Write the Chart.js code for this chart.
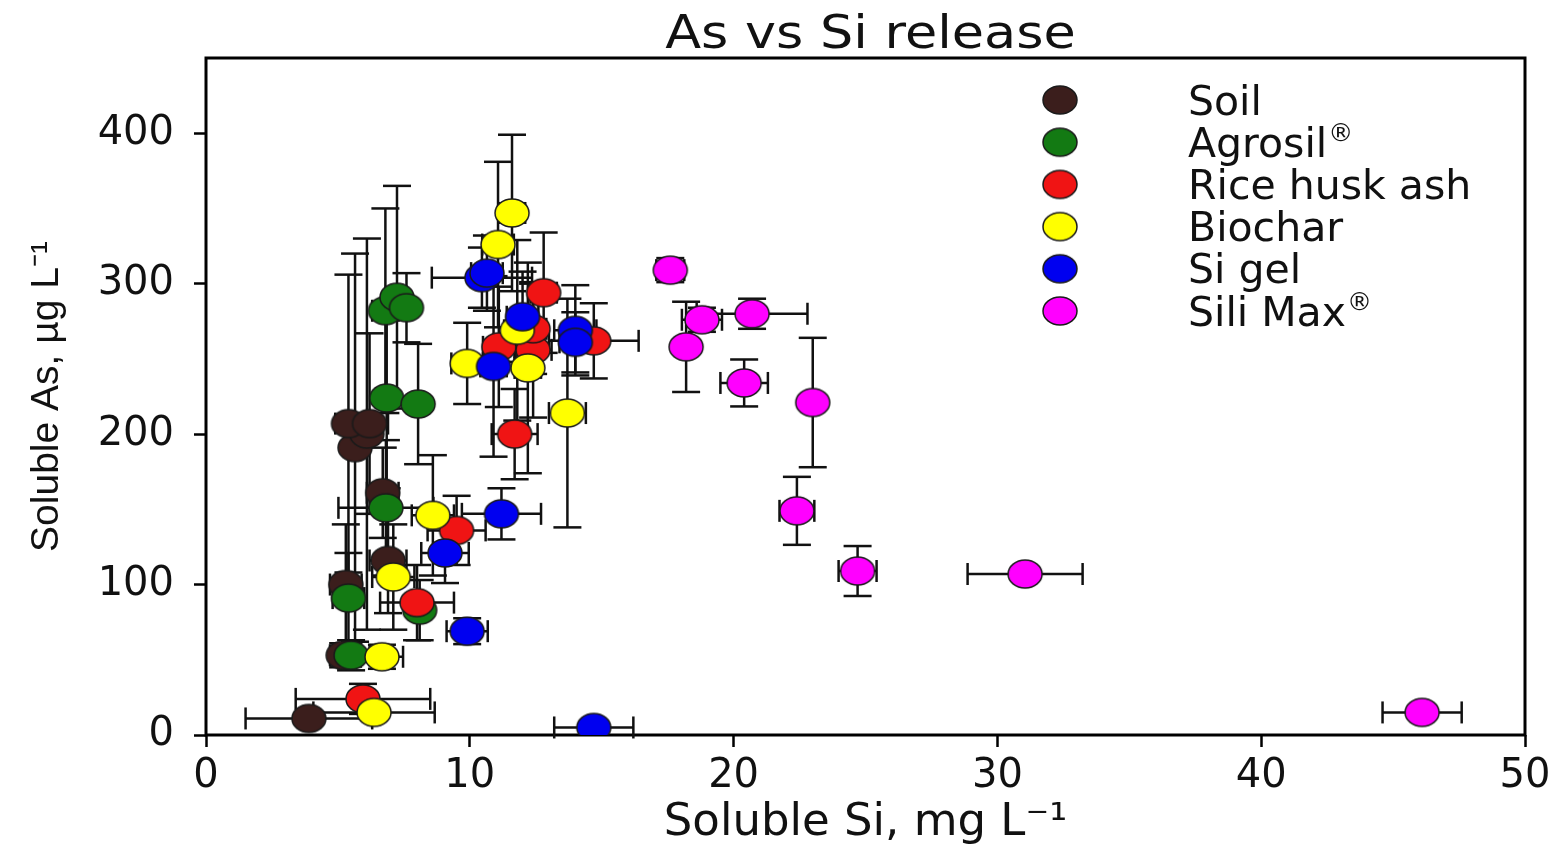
<!DOCTYPE html>
<html>
<head>
<meta charset="utf-8">
<title>As vs Si release</title>
<script src="https://cdn.jsdelivr.net/npm/chart.js@4.4.1/dist/chart.umd.min.js"></script>
<style>
  html, body { margin: 0; padding: 0; background: #fff; }
  canvas { display: block; }
</style>
</head>
<body>
<canvas id="myChart" width="1560" height="850"></canvas>
<script>
const chartTitle = 'As vs Si release';
const seriesNames = ['Soil', 'Agrosil®', 'Rice husk ash', 'Biochar', 'Si gel', 'Sili Max®'];
const seriesColors = ['#3b1e1c', '#137a13', '#f01414', '#ffff00', '#0000f0', '#ff00ff'];

const xTicks = [0, 10, 20, 30, 40, 50];
const yTicks = [0, 100, 200, 300, 400];

// soluble Si (mg/L), soluble As (ug/L) and their errors
const soilSi     = [3.9, 5.2, 5.3, 6.9, 6.7, 5.65, 6.1, 5.4, 6.2];
const soilAs     = [11, 53, 100, 116, 161, 191, 200, 207, 207];
const soilSiErr  = [2.4, 0.5, 0.6, 0.7, 0.6, 0.3, 0.4, 0.5, 0.7];
const soilAsErr  = [4, 8, 40, 35, 30, 129, 130, 99, 60];

const agroSi     = [6.8, 7.24, 7.6, 6.85, 8.04, 6.82, 5.4, 5.5, 8.1];
const agroAs     = [282, 291, 284, 224, 220, 151, 91, 53, 83];
const agroSiErr  = [0.5, 0.3, 0.3, 0.4, 0.3, 1.8, 0.6, 0.7, 0.3];
const agroAsErr  = [68, 74, 23, 60, 40, 45, 30, 10, 20];

const riceSi     = [5.95, 8.0, 9.5, 11.7, 11.1, 12.4, 12.4, 12.8, 14.7];
const riceAs     = [24, 88, 136, 200, 258, 256, 270, 294, 262];
const riceSiErr  = [2.55, 1.4, 1.1, 0.87, 0.6, 0.7, 0.5, 0.5, 1.7];
const riceAsErr  = [10, 25, 23, 30, 40, 45, 30, 40, 25];

const bioSi      = [6.37, 6.67, 7.1, 8.6, 9.9, 12.2, 11.8, 11.07, 11.6, 13.7];
const bioAs      = [15, 52, 105, 146, 247, 244, 269, 326, 347, 214];
const bioSiErr   = [2.3, 0.8, 0.8, 0.8, 0.6, 0.5, 0.5, 0.6, 0.5, 0.7];
const bioAsErr   = [5, 8, 35, 40, 27, 70, 60, 55, 52, 76];

const gelSi      = [10.46, 10.65, 12.0, 14.0, 14.0, 10.9, 11.2, 9.06, 9.9, 14.7];
const gelAs      = [304, 307, 278, 269, 261, 245, 147, 121, 69, 5];
const gelSiErr   = [1.9, 0.6, 0.6, 0.8, 0.6, 0.5, 1.5, 0.9, 0.78, 1.5];
const gelAsErr   = [20, 25, 30, 30, 20, 60, 17, 20, 8.6, 2];

const maxSi      = [17.6, 18.8, 20.7, 18.2, 20.4, 23.0, 22.4, 24.7, 31.05, 46.1];
const maxAs      = [309, 276, 280, 258, 234, 221, 149, 109, 107, 15];
const maxSiErr   = [0.53, 0.76, 2.1, 0, 0.9, 0, 0.66, 0.72, 2.18, 1.5];
const maxAsErr   = [8, 8, 10, 30, 15.6, 43, 22.6, 16.6, 4, 3];

const series = [
    [soilSi, soilAs, soilSiErr, soilAsErr],
    [agroSi, agroAs, agroSiErr, agroAsErr],
    [riceSi, riceAs, riceSiErr, riceAsErr],
    [bioSi, bioAs, bioSiErr, bioAsErr],
    [gelSi, gelAs, gelSiErr, gelAsErr],
    [maxSi, maxAs, maxSiErr, maxAsErr],
];

// oval markers like the original plot
function dot(color) {
    const c = document.createElement('canvas');
    c.width = 38; c.height = 32;
    const g = c.getContext('2d');
    g.beginPath();
    g.ellipse(19, 16, 17, 14, 0, 0, Math.PI * 2);
    g.fillStyle = color;
    g.fill();
    g.lineWidth = 1.5;
    g.strokeStyle = '#1a1a1a';
    g.stroke();
    return c;
}
const dots = seriesColors.map(dot);

const datasets = series.map((s, i) => ({
    label: seriesNames[i],
    data: s[0].map((v, j) => ({ x: v, y: s[1][j], xErr: s[2][j], yErr: s[3][j] })),
    pointStyle: dots[i],
    order: series.length - i,
}));

const frame = {
    id: 'frame',
    beforeDatasetsDraw(chart) {
        const { ctx, chartArea: a } = chart;
        ctx.save();
        ctx.lineWidth = 3;
        ctx.strokeStyle = '#000';
        ctx.strokeRect(a.left, a.top, a.right - a.left, a.bottom - a.top);
        ctx.restore();
    }
};

const errorBars = {
    id: 'errorBars',
    beforeDatasetsDraw(chart) {
        const { ctx, scales: { x, y } } = chart;
        ctx.save();
        ctx.strokeStyle = '#111';
        ctx.lineWidth = 2.5;
        const seg = (x1, y1, x2, y2) => {
            ctx.beginPath(); ctx.moveTo(x1, y1); ctx.lineTo(x2, y2); ctx.stroke();
        };
        chart.data.datasets.forEach(ds => {
            ds.data.forEach(p => {
                const px = x.getPixelForValue(p.x), py = y.getPixelForValue(p.y);
                if (p.yErr) {
                    const y1 = y.getPixelForValue(p.y + p.yErr);
                    const y2 = y.getPixelForValue(p.y - p.yErr);
                    seg(px, y1, px, y2);
                    seg(px - 14, y1, px + 14, y1);
                    seg(px - 14, y2, px + 14, y2);
                }
                if (p.xErr) {
                    const x1 = x.getPixelForValue(p.x - p.xErr);
                    const x2 = x.getPixelForValue(p.x + p.xErr);
                    seg(x1, py, x2, py);
                    seg(x1, py - 11, x1, py + 11);
                    seg(x2, py - 11, x2, py + 11);
                }
            });
        });
        ctx.restore();
    }
};

const legendBox = {
    id: 'legendBox',
    afterDraw(chart) {
        const ctx = chart.ctx;
        ctx.save();
        ctx.fillStyle = '#111';
        ctx.textAlign = 'left';
        ctx.textBaseline = 'alphabetic';
        seriesNames.forEach((name, i) => {
            const cy = 100 + i * 42.2;
            ctx.drawImage(dots[i], 1060 - 19, cy - 16);
            const base = name.replace('®', '');
            ctx.font = '41px "DejaVu Sans"';
            ctx.fillText(base, 1188, cy + 14.5);
            if (name.endsWith('®')) {
                const w = ctx.measureText(base).width;
                ctx.font = '25px "DejaVu Sans"';
                ctx.fillText('®', 1188 + w + 1, cy - 1);
            }
        });
        ctx.restore();
    }
};

const titleText = {
    id: 'titleText',
    afterDraw(chart) {
        const { ctx, chartArea: a } = chart;
        ctx.save();
        ctx.font = '46px "DejaVu Sans"';
        ctx.fillStyle = '#111';
        ctx.textAlign = 'center';
        ctx.textBaseline = 'alphabetic';
        ctx.translate((a.left + a.right) / 2 + 5, 48);
        ctx.scale(1.14, 1);
        ctx.fillText(chartTitle, 0, 0);
        ctx.restore();
    }
};

const gridOpts = { drawOnChartArea: false, drawTicks: true, tickLength: 12, tickWidth: 2.5, tickColor: '#000' };

new Chart(document.getElementById('myChart'), {
    type: 'scatter',
    data: { datasets },
    options: {
        responsive: false,
        animation: false,
        devicePixelRatio: 1,
        events: [],
        layout: { padding: { top: 58, right: 35, left: 0, bottom: 0 } },
        plugins: { legend: { display: false }, tooltip: { enabled: false } },
        scales: {
            x: {
                type: 'linear', min: 0, max: 50,
                afterBuildTicks: s => { s.ticks = xTicks.map(v => ({ value: v })); },
                afterFit: s => { s.height = 115; },
                grid: gridOpts,
                border: { display: false },
                ticks: { color: '#111', font: { family: 'DejaVu Sans', size: 40 }, padding: 6, maxRotation: 0 },
                title: { display: true, text: 'Soluble Si, mg L⁻¹', color: '#111', font: { family: 'DejaVu Sans', size: 45 }, padding: 0 }
            },
            y: {
                type: 'linear', min: 0, max: 450,
                afterBuildTicks: s => { s.ticks = yTicks.map(v => ({ value: v })); },
                afterFit: s => { s.width = 206; },
                grid: gridOpts,
                border: { display: false },
                ticks: { color: '#111', font: { family: 'DejaVu Sans', size: 40 }, padding: 20 },
                title: { display: true, text: 'Soluble As, µg L⁻¹', color: '#111', font: { family: 'Liberation Sans', size: 39 }, padding: { top: 24, bottom: 0 } }
            }
        }
    },
    plugins: [frame, errorBars, legendBox, titleText]
});
</script>
</body>
</html>
